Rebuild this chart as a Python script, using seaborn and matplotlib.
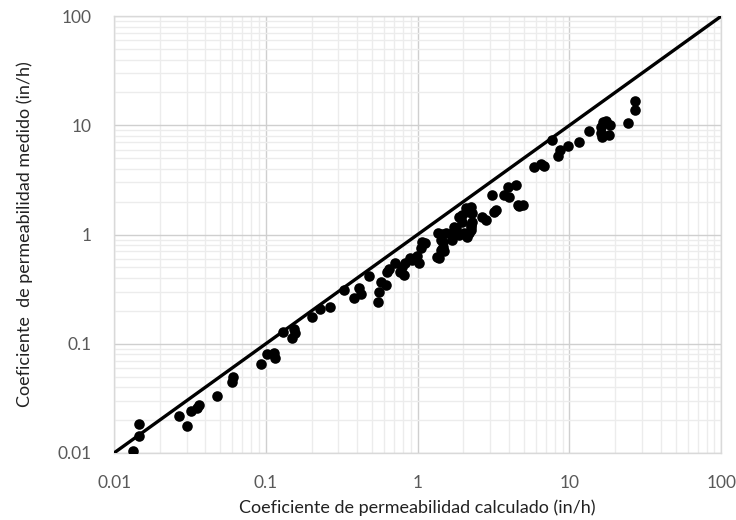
import numpy as np
import pandas as pd
import matplotlib
matplotlib.use("Agg")
import matplotlib.pyplot as plt
import seaborn as sns
from matplotlib.ticker import FixedLocator, LogLocator, NullFormatter

# Values (in/h)
calculado = [
    0.0133, 0.0146, 0.0147, 0.0268, 0.0302, 0.032, 0.035, 0.036, 0.048, 0.0594,
    0.0608, 0.0923, 0.102, 0.113, 0.115, 0.129, 0.153, 0.155, 0.148, 0.2,
    0.227, 0.263, 0.328, 0.378, 0.408, 0.425, 0.475, 0.548, 0.559, 0.574,
    0.62, 0.63, 0.652, 0.707, 0.769, 0.81, 0.79, 0.83, 0.887, 0.92,
    1.02, 0.99, 1.045, 1.07, 1.12, 1.35, 1.38, 1.42, 1.49, 1.47,
    1.36, 1.44, 1.53, 1.42, 1.47, 1.69, 1.73, 1.69, 1.78, 1.87,
    1.97, 1.95, 1.87, 2.02, 2.12, 2.18, 2.23, 2.23, 2.07, 2.23,
    2.29, 2.18, 2.29, 2.23, 2.67, 2.81, 3.19, 3.27, 3.11, 3.72,
    3.91, 4.01, 4.43, 4.55, 4.63, 4.91, 5.81, 6.49, 6.83, 7.64,
    8.46, 8.71, 9.73, 11.6, 13.4, 16.6, 17.3, 18.4, 16.2, 16.4,
    18.2, 16.2, 24.3, 26.9, 27.1,
]
medido = [
    0.0105, 0.0184, 0.0142, 0.0219, 0.0177, 0.024, 0.0257, 0.0272, 0.0333, 0.0446,
    0.050, 0.065, 0.081, 0.082, 0.074, 0.129, 0.136, 0.125, 0.112, 0.174,
    0.207, 0.219, 0.311, 0.261, 0.323, 0.284, 0.421, 0.24, 0.30, 0.37,
    0.346, 0.458, 0.481, 0.546, 0.458, 0.427, 0.502, 0.546, 0.615, 0.586,
    0.546, 0.637, 0.75, 0.86, 0.83, 0.628, 0.607, 0.72, 0.70, 0.776,
    1.04, 1.01, 1.04, 0.893, 0.86, 0.893, 1.18, 1.03, 1.14, 1.46,
    1.31, 1.51, 0.99, 1.03, 0.957, 1.03, 1.1, 1.18, 1.74, 1.8,
    1.57, 1.62, 1.31, 1.23, 1.46, 1.35, 1.62, 1.69, 2.3, 2.3,
    2.74, 2.22, 2.84, 1.87, 1.84, 1.87, 4.13, 4.43, 4.27, 7.35,
    5.24, 5.94, 6.46, 7.08, 8.93, 10.8, 11.0, 10.1, 9.7, 7.76,
    8.14, 8.45, 10.4, 13.8, 16.7,
]
ref_line = [0.01, 100]
tick_vals = [0.01, 0.1, 1, 10, 100]
tick_labels = ["0.01", "0.1", "1", "10", "100"]

df = pd.DataFrame({"calculado": calculado, "medido": medido})

sns.set_style("white")
plt.rcParams["font.family"] = ["Lato", "DejaVu Sans"]

fig = plt.figure(figsize=(7.36, 5.2), dpi=100)
ax = fig.add_axes([0.155, 0.129, 0.825, 0.840])

ax.set_xscale("log")
ax.set_yscale("log")
ax.set_xlim(0.01, 100)
ax.set_ylim(0.01, 100)

# grid
ax.xaxis.set_major_locator(FixedLocator(tick_vals))
ax.yaxis.set_major_locator(FixedLocator(tick_vals))
ax.xaxis.set_minor_locator(LogLocator(base=10, subs=np.arange(2, 10)))
ax.yaxis.set_minor_locator(LogLocator(base=10, subs=np.arange(2, 10)))
ax.xaxis.set_minor_formatter(NullFormatter())
ax.yaxis.set_minor_formatter(NullFormatter())
ax.set_xticklabels(tick_labels)
ax.set_yticklabels(tick_labels)
ax.grid(which="minor", color="#ececec", linewidth=1.0)
ax.grid(which="major", color="#cfcfcf", linewidth=1.0)
ax.set_axisbelow(True)
for s in ax.spines.values():
    s.set_color("#d9d9d9")
    s.set_linewidth(1.0)

sns.lineplot(x=ref_line, y=ref_line, color="black", linewidth=2.4, ax=ax,
             zorder=3)
sns.scatterplot(data=df, x="calculado", y="medido", color="black", s=58,
                edgecolor="black", linewidth=0, ax=ax, zorder=4)

ax.tick_params(axis="both", which="both", length=0,
               labelsize=12.5, labelcolor="#595959")
ax.tick_params(axis="x", pad=16)
ax.tick_params(axis="y", pad=16)
ax.set_xlabel("Coeficiente de permeabilidad calculado (in/h)", fontsize=13,
              color="#222222", labelpad=6)
ax.set_ylabel("Coeficiente  de permeabilidad medido (in/h)", fontsize=13,
              color="#222222", labelpad=18)

fig.savefig("out.png", dpi=100)
